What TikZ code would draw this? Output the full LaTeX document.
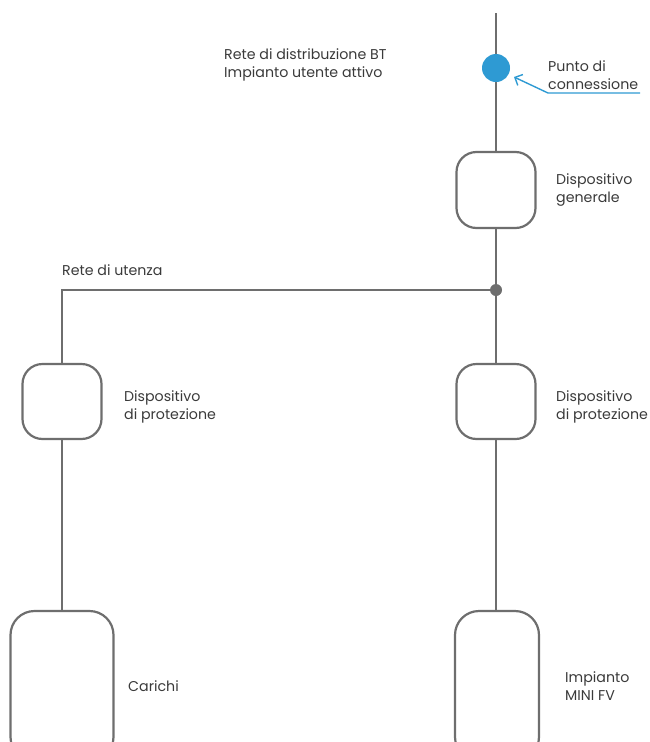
\documentclass[tikz,border=0pt]{standalone}
\usepackage{fontspec}
\setmainfont{Poppins}
\usepackage{xcolor}
\usetikzlibrary{shapes,arrows,arrows.meta,calc}
\definecolor{wire}{HTML}{6E6E6E}
\definecolor{testo}{HTML}{3A3A3A}
\definecolor{punto}{HTML}{2E9AD3}
\tikzstyle{line} = [draw, wire, line width=2.8pt]
\tikzstyle{box} = [rectangle, draw=wire, line width=2.2pt, rounded corners=20pt, fill=white, inner sep=0pt]
\tikzstyle{label} = [anchor=west, align=left, text=testo, font=\fontsize{14.2}{18}\selectfont, inner sep=0pt]

\begin{document}
\begin{tikzpicture}[x=1pt, y=-1pt]

\useasboundingbox (0,0) rectangle (650,742);
\clip (0,0) rectangle (650,742);

\coordinate (top) at (496,13);
\node [circle, fill=punto, minimum size=28pt, inner sep=0pt] (pc) at (496,68) {};
\node [box, minimum width=79pt, minimum height=76pt] (gen) at (496,190) {};
\node [circle, fill=wire, minimum size=12pt, inner sep=0pt] (nodo) at (496,290) {};
\coordinate (angolo) at (62,290);

\node [box, minimum width=79pt, minimum height=75pt] (protL) at (62,401.5) {};
\node [box, minimum width=79pt, minimum height=75pt] (protR) at (496,401.5) {};

\node [box, rounded corners=24pt, minimum width=103pt, minimum height=150pt] (carichi) at (62,686) {};
\node [box, rounded corners=24pt, minimum width=84pt, minimum height=150pt] (fv) at (497,686) {};

\node [label] (rete) at (224,65) {Rete di distribuzione BT\\Impianto utente attivo};
\node [label] (lpc) at (548,75) {Punto di\\connessione};
\node [label] (lgen) at (556,190) {Dispositivo\\generale};
\node [label] (lutenza) at (62,270) {Rete di utenza};
\node [label] (lprotL) at (124,407) {Dispositivo\\di protezione};
\node [label] (lprotR) at (556,407) {Dispositivo\\di protezione};
\node [label] (lcarichi) at (128,686) {Carichi};
\node [label] (lfv) at (565,686) {Impianto\\MINI FV};

\path [line] (top) -- (pc);
\path [line] (pc) -- (gen);
\path [line] (gen) -- (nodo);
\path [line] (nodo) -- (protR);
\path [line] (protR) -- (fv.north -| protR);
\path [line] (nodo) -- (angolo) -- (protL);
\path [line] (protL) -- (carichi);

% freccia punto di connessione
\coordinate (f1) at (640,93);
\coordinate (f2) at (548,93);
\draw [punto, line width=1.4pt, -{Straight Barb[length=6pt,width=12pt]}] (f1) -- (f2) -- ($(pc)+(18,9)$);

\end{tikzpicture}
\end{document}
